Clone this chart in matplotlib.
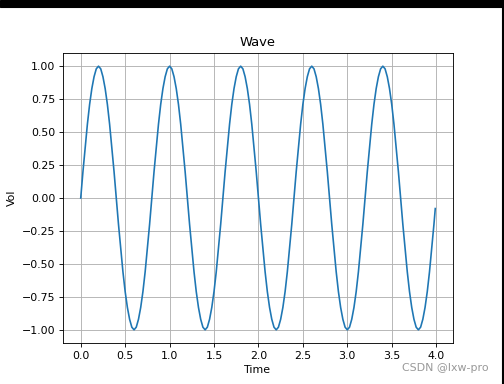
import matplotlib
matplotlib.use("Agg")
from matplotlib import pyplot as plt
from matplotlib.patches import Rectangle

# samples, every 0.025 s
one_period = [0, 0.2, 0.38, 0.56, 0.71, 0.83, 0.92, 0.98, 1, 0.98, 0.92, 0.83, 0.71, 0.56, 0.38, 0.2,
              0, -0.2, -0.38, -0.56, -0.71, -0.83, -0.92, -0.98, -1, -0.98, -0.92, -0.83, -0.71, -0.56, -0.38, -0.2]
time = [
    0.0, 0.025, 0.05, 0.075, 0.1, 0.125, 0.15, 0.175, 0.2, 0.225, 0.25, 0.275, 0.3, 0.325, 0.35, 0.375,
    0.4, 0.425, 0.45, 0.475, 0.5, 0.525, 0.55, 0.575, 0.6, 0.625, 0.65, 0.675, 0.7, 0.725, 0.75, 0.775,
    0.8, 0.825, 0.85, 0.875, 0.9, 0.925, 0.95, 0.975, 1.0, 1.025, 1.05, 1.075, 1.1, 1.125, 1.15, 1.175,
    1.2, 1.225, 1.25, 1.275, 1.3, 1.325, 1.35, 1.375, 1.4, 1.425, 1.45, 1.475, 1.5, 1.525, 1.55, 1.575,
    1.6, 1.625, 1.65, 1.675, 1.7, 1.725, 1.75, 1.775, 1.8, 1.825, 1.85, 1.875, 1.9, 1.925, 1.95, 1.975,
    2.0, 2.025, 2.05, 2.075, 2.1, 2.125, 2.15, 2.175, 2.2, 2.225, 2.25, 2.275, 2.3, 2.325, 2.35, 2.375,
    2.4, 2.425, 2.45, 2.475, 2.5, 2.525, 2.55, 2.575, 2.6, 2.625, 2.65, 2.675, 2.7, 2.725, 2.75, 2.775,
    2.8, 2.825, 2.85, 2.875, 2.9, 2.925, 2.95, 2.975, 3.0, 3.025, 3.05, 3.075, 3.1, 3.125, 3.15, 3.175,
    3.2, 3.225, 3.25, 3.275, 3.3, 3.325, 3.35, 3.375, 3.4, 3.425, 3.45, 3.475, 3.5, 3.525, 3.55, 3.575,
    3.6, 3.625, 3.65, 3.675, 3.7, 3.725, 3.75, 3.775, 3.8, 3.825, 3.85, 3.875, 3.9, 3.925, 3.95, 3.975,
    3.99,
]
vol = one_period * 5 + [-0.08]

fig = plt.figure(figsize=(504 / 78.75, 384 / 78.75), dpi=78.75)
ax = fig.add_axes([63 / 504, 41 / 384, 390 / 504, 290 / 384])
ax.plot(time, vol)
ax.set_title("Wave")
ax.set_xlabel("Time")
ax.set_ylabel("Vol")
ax.grid()

# screenshot borders and watermark
fig.patches.append(Rectangle((0, 1 - 7 / 384), 1, 7 / 384, transform=fig.transFigure, color="black"))
fig.patches.append(Rectangle((1 - 2 / 504, 0), 2 / 504, 1, transform=fig.transFigure, color="black"))
fig.text(402 / 504, 13 / 384, "CSDN @lxw-pro", color="#999999", fontsize=10)

fig.savefig("out.png", dpi=78.75)
